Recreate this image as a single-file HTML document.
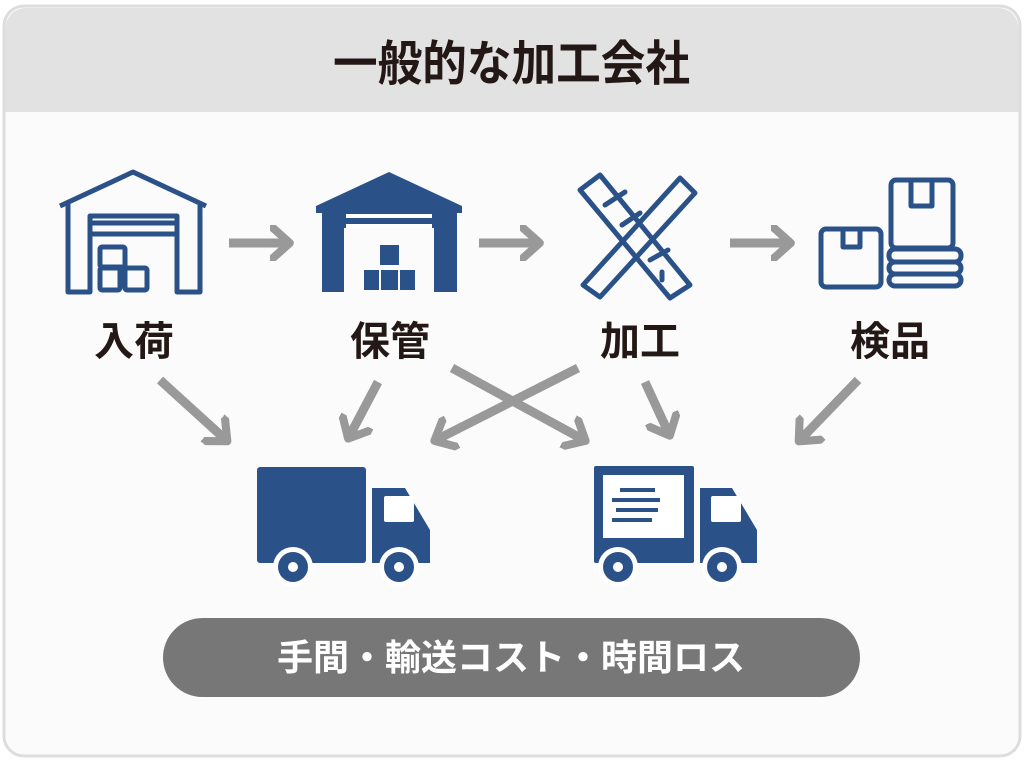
<!DOCTYPE html>
<html><head><meta charset="utf-8"><style>
html,body{margin:0;padding:0;background:#fff;}
body{width:1024px;height:762px;overflow:hidden;position:relative;font-family:"Liberation Sans","Noto Sans CJK JP",sans-serif;}
</style></head><body>
<svg width="1024" height="762" viewBox="0 0 1024 762" xmlns="http://www.w3.org/2000/svg" style="position:absolute;left:0;top:0">
<defs>
<marker id="ah" markerWidth="4" markerHeight="4" refX="2" refY="2" orient="auto" markerUnits="strokeWidth">
<path d="M0.3,0.3 L2.2,2 L0.3,3.7" fill="none" stroke="#999" stroke-width="0.9" stroke-linecap="round" stroke-linejoin="round"/>
</marker>
</defs>
<rect x="4" y="6" width="1016" height="750" rx="20" fill="#fbfbfb" stroke="#ddd" stroke-width="3"/>
<path d="M5.5,112 V28 a20,20 0 0 1 20,-20 H998.5 a20,20 0 0 1 20,20 V112 Z" fill="#e2e2e2"/>
<text x="333" y="80" textLength="357" lengthAdjust="spacingAndGlyphs" font-size="48" font-weight="bold" fill="#231815">一般的な加工会社</text>

<g fill="none" stroke="#2b5288" stroke-width="5" stroke-linejoin="round">
<path d="M60,206 L133,172 L206,206"/>
<path d="M68,204 V292 H90 V216 H177 V292 H200 V204"/>
<path d="M90,223 H177 M90,234 H177"/>
<rect x="100" y="247" width="25" height="20" rx="2"/>
<rect x="100" y="268" width="20" height="22" rx="2"/>
<rect x="125" y="268" width="22" height="22" rx="2"/>
</g>
<g fill="#2b5288">
<path d="M316,206 L389,172 L462,206 V213 L457,213 V292 H434 V228 H344 V292 H322 V213 L316,213 Z"/>
<rect x="346" y="214" width="86" height="4" fill="#fff"/>
<rect x="346" y="224" width="86" height="4" fill="#fff"/>
<rect x="380" y="245" width="19" height="20"/>
<rect x="364" y="270" width="15" height="20"/><rect x="381" y="270" width="17" height="20"/><rect x="400" y="270" width="15" height="20"/>
</g>
<g fill="none" stroke="#2b5288" stroke-width="5" stroke-linejoin="round" stroke-linecap="round">
<path d="M580,190 L600,175 L690,285 L670,298 Z"/>
<path d="M680,178 L695,193 L600,297 L583,285 Z"/>
<path d="M605,205 L625,192 M622,225 L640,213 M650,260 L668,250"/>
<path d="M662,272 V280"/>
</g>
<g fill="none" stroke="#2b5288" stroke-width="5" stroke-linejoin="round">
<rect x="821" y="229" width="60" height="58" rx="5"/>
<path d="M843,231 V247 H860 V231"/>
<rect x="891" y="180" width="62" height="68" rx="5"/>
<path d="M911,182 V206 H932 V182"/>
<rect x="889" y="249" width="72" height="13" rx="6"/>
<rect x="889" y="262" width="72" height="12" rx="6"/>
<rect x="889" y="274" width="72" height="12" rx="6"/>
</g>

<g stroke="#999" stroke-width="9" fill="none" marker-end="url(#ah)">
<line x1="229" y1="243" x2="288" y2="243"/>
<line x1="479" y1="243" x2="538" y2="243"/>
<line x1="730" y1="243" x2="789" y2="243"/>
<line x1="160" y1="380" x2="226" y2="440"/>
<line x1="378" y1="382" x2="349" y2="437"/>
<line x1="578" y1="368" x2="436" y2="440"/>
<line x1="452" y1="368" x2="584" y2="440"/>
<line x1="645" y1="382" x2="669" y2="434"/>
<line x1="858" y1="380" x2="800" y2="440"/>
</g>

<g font-size="40" font-weight="bold" fill="#231815" text-anchor="middle">
<text x="134" y="355">入荷</text>
<text x="390" y="355">保管</text>
<text x="640" y="355">加工</text>
<text x="890" y="355">検品</text>
</g>

<g fill="#2b5288">
<rect x="257" y="467" width="109" height="96" rx="3"/>
<path d="M372,488 H405 L430,530 V563 H372 Z"/>
<rect x="384" y="496" width="30" height="26" rx="2" fill="#fff"/>
<circle cx="293" cy="567" r="20" fill="#fff"/><circle cx="293" cy="567" r="15"/><circle cx="293" cy="567" r="5" fill="#fff"/>
<circle cx="399" cy="567" r="20" fill="#fff"/><circle cx="399" cy="567" r="15"/><circle cx="399" cy="567" r="5" fill="#fff"/>
</g>
<g fill="#2b5288">
<rect x="594" y="466" width="100" height="97" rx="2"/>
<rect x="603" y="475" width="81" height="63" fill="#fff"/>
<path d="M620,490 H655 M612,500 H660 M616,510 H658 M612,520 H652" stroke="#2b5288" stroke-width="4"/>
<path d="M700,488 H732 L757,530 V563 H700 Z"/>
<rect x="711" y="496" width="30" height="26" rx="2" fill="#fff"/>
<circle cx="618" cy="567" r="20" fill="#fff"/><circle cx="618" cy="567" r="15"/><circle cx="618" cy="567" r="5" fill="#fff"/>
<circle cx="722" cy="567" r="20" fill="#fff"/><circle cx="722" cy="567" r="15"/><circle cx="722" cy="567" r="5" fill="#fff"/>
</g>

<rect x="163" y="618" width="697" height="79" rx="39.5" fill="#777"/>
<text x="511" y="670" text-anchor="middle" font-size="36" font-weight="bold" fill="#fff">手間・輸送コスト・時間ロス</text>
</svg>
</body></html>
